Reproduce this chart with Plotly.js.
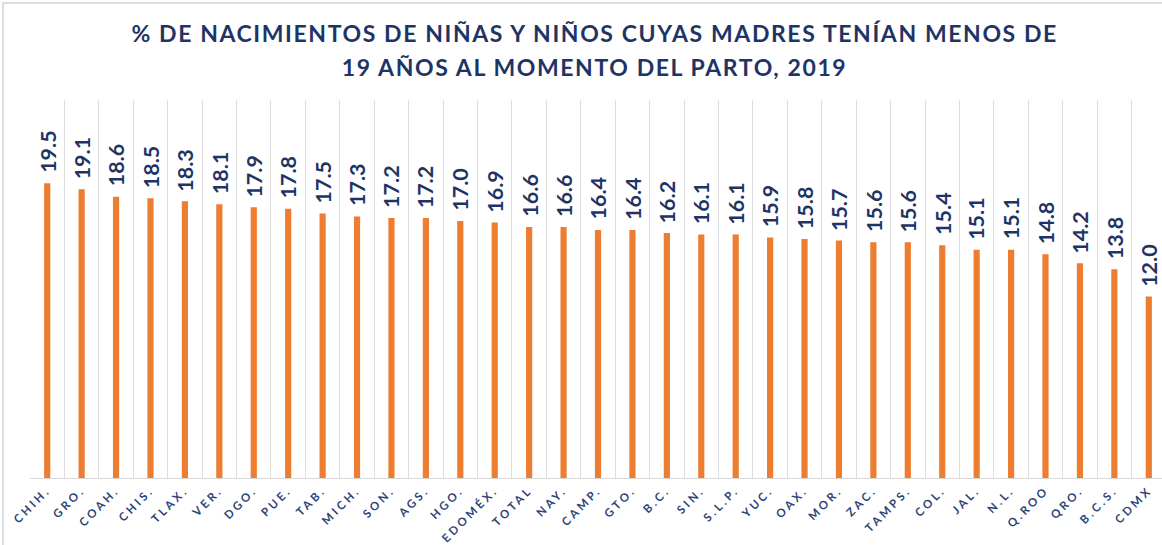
<!DOCTYPE html>
<html>
<head>
<meta charset="utf-8">
<script src="https://cdn.plot.ly/plotly-3.0.1.min.js"></script>
<style>
  html, body { margin: 0; padding: 0; background: #ffffff; overflow: hidden; }
  #frame { position: absolute; left: 2px; top: 2px; width: 1200px; height: 600px; border-left: 2px solid #dcdcdc; border-top: 2px solid #dcdcdc; }
  #chart { position: absolute; left: 0; top: 0; width: 1170px; height: 545px; }
  .xtick text { letter-spacing: 3px; }
  .ann-title text { letter-spacing: 1.6px; }
</style>
</head>
<body>
<div id="frame"></div>
<div id="chart"></div>
<script>
const categories = ["CHIH.", "GRO.", "COAH.", "CHIS.", "TLAX.", "VER.", "DGO.", "PUE.", "TAB.", "MICH.", "SON.", "AGS.", "HGO.", "EDOMÉX.", "TOTAL", "NAY.", "CAMP.", "GTO.", "B.C.", "SIN.", "S.L.P.", "YUC.", "OAX.", "MOR.", "ZAC.", "TAMPS.", "COL.", "JAL.", "N.L.", "Q.ROO", "QRO.", "B.C.S.", "CDMX"];
const values = [19.5, 19.1, 18.6, 18.5, 18.3, 18.1, 17.9, 17.8, 17.5, 17.3, 17.2, 17.2, 17.0, 16.9, 16.6, 16.6, 16.4, 16.4, 16.2, 16.1, 16.1, 15.9, 15.8, 15.7, 15.6, 15.6, 15.4, 15.1, 15.1, 14.8, 14.2, 13.8, 12.0];
const titleLines = ["% DE NACIMIENTOS DE NIÑAS Y NIÑOS CUYAS MADRES TENÍAN MENOS DE", "19 AÑOS AL MOMENTO DEL PARTO, 2019"];

const navy = "#1f3466";
const fontFam = "Lato, 'Open Sans', sans-serif";
const trace = {
  type: "bar",
  x: categories,
  y: values,
  marker: { color: "#ed7d31" },
  width: 0.18,
  cliponaxis: false,
  hoverinfo: "x+y"
};

const valueLabels = categories.map((c, i) => ({
  x: c, y: values[i],
  xref: "x", yref: "y",
  text: values[i].toFixed(1),
  textangle: -90,
  xanchor: "center", yanchor: "bottom",
  yshift: 8,
  showarrow: false,
  font: { family: fontFam, size: 21.5, color: navy, weight: "bold" }
}));

const titleAnns = titleLines.map((t, i) => ({
  text: t,
  xref: "paper", yref: "paper",
  x: 0.497, y: i === 0 ? 1.178 : 1.088,
  xanchor: "center", yanchor: "middle",
  showarrow: false,
  font: { family: fontFam, size: 23, color: navy, weight: "bold" }
}));

const layout = {
  width: 1170,
  height: 545,
  margin: { l: 30, r: 4, t: 100, b: 67 },
  paper_bgcolor: "rgba(0,0,0,0)",
  plot_bgcolor: "rgba(0,0,0,0)",
  showlegend: false,
  xaxis: {
    type: "category",
    tickson: "boundaries",
    showgrid: true,
    gridcolor: "#dedede",
    gridwidth: 1,
    showline: true,
    linecolor: "#d9d9d9",
    linewidth: 1,
    ticks: "",
    tickangle: -45,
    tickfont: { family: fontFam, size: 11.5, color: "#2b4478", weight: "bold" },
    automargin: false
  },
  yaxis: {
    range: [0, 25],
    showgrid: false,
    zeroline: false,
    showticklabels: false,
    showline: false,
    fixedrange: true
  },
  annotations: valueLabels.concat(titleAnns)
};

Plotly.newPlot("chart", [trace], layout, { displayModeBar: false, staticPlot: true }).then(() => {
  const anns = document.querySelectorAll(".annotation");
  anns.forEach((a, i) => { if (i >= valueLabels.length) a.classList.add("ann-title"); });
});
</script>
</body>
</html>
